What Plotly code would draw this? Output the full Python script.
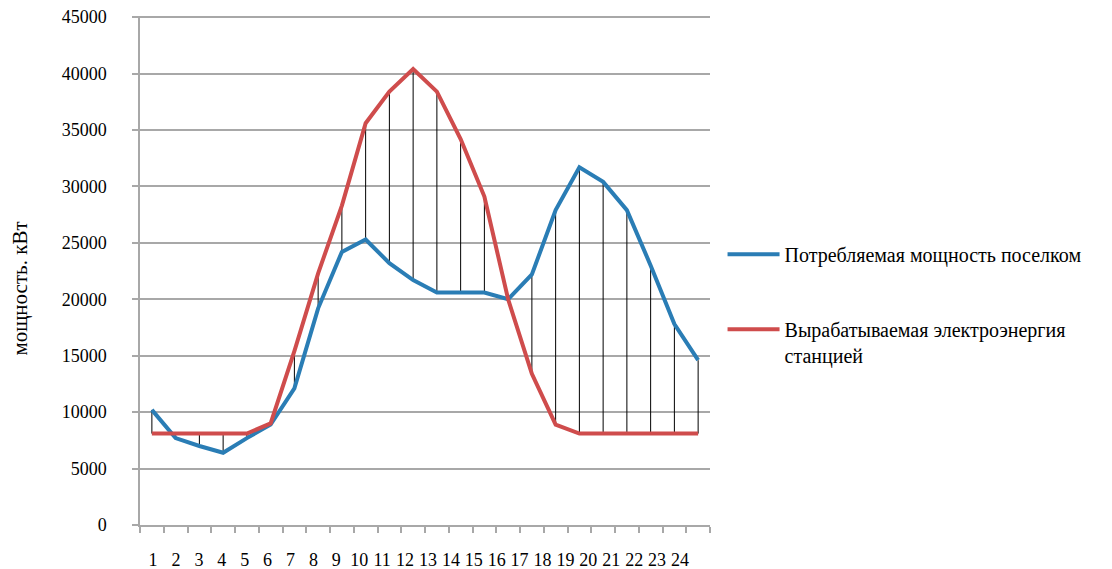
import plotly.graph_objects as go

hours = list(range(1, 25))
consumption = [10200, 7700, 7000, 6400, 7700, 8900, 12100, 19200, 24200, 25300, 23200, 21700,
               20600, 20600, 20600, 20000, 22200, 27900, 31700, 30400, 27900, 23000, 17800, 14600]
generation = [8100, 8100, 8100, 8100, 8100, 9000, 15400, 22300, 28300, 35600, 38400, 40400,
              38400, 34200, 29100, 20000, 13400, 8900, 8100, 8100, 8100, 8100, 8100, 8100]
y_ticks = list(range(0, 45001, 5000))
name_cons = "Потребляемая мощность поселком"
name_gen = "Вырабатываемая электроэнергия<br>станцией"
y_title = "мощность. кВт"

FONT = "'Liberation Serif', 'Times New Roman', Times, serif"
BLUE = "#2a7db5"
RED = "#cf4c4c"
GRID = "#a8a8a8"

# high-low drop lines between the two series
dx, dy = [], []
for h, c, g in zip(hours, consumption, generation):
    dx += [h, h, None]
    dy += [c, g, None]

fig = go.Figure()
fig.add_trace(go.Scatter(x=dx, y=dy, mode="lines", line=dict(color="black", width=1),
                         showlegend=False, hoverinfo="skip"))
fig.add_trace(go.Scatter(x=hours, y=consumption, mode="lines", name=name_cons,
                         line=dict(color=BLUE, width=4), legendgroup="a"))
fig.add_trace(go.Scatter(x=hours, y=generation, mode="lines", name=name_gen,
                         line=dict(color=RED, width=4), legendgroup="b"))
# carrier for the hour labels axis
fig.add_trace(go.Scatter(x=hours, y=[None] * len(hours), xaxis="x2", mode="lines",
                         showlegend=False, hoverinfo="skip"))

boundaries = [h - 0.5 for h in hours] + [hours[-1] + 0.5]

# the page body adds an 8 px offset, so the figure is 8 px smaller than the window
fig.update_layout(
    width=1104, height=561,
    margin=dict(l=132, r=402, t=8, b=44, autoexpand=False),
    paper_bgcolor="white", plot_bgcolor="white",
    font=dict(family=FONT, size=18, color="black"),
    showlegend=True,
    legend=dict(x=1.022, xanchor="left", y=0.57, yanchor="top",
                font=dict(family=FONT, size=20, color="black"),
                tracegroupgap=46, valign="top", itemwidth=52),
    xaxis=dict(range=[0.5, 24.5], tickvals=boundaries, showticklabels=False,
               ticks="outside", ticklen=6, tickcolor=GRID, tickwidth=1.5,
               showline=True, linecolor=GRID, linewidth=1.5, automargin=False,
               showgrid=False, zeroline=False, fixedrange=True),
    xaxis2=dict(overlaying="x", side="bottom", anchor="y", range=[0.43, 25.31],
                tickvals=hours, ticktext=[str(h) for h in hours], automargin=False,
                showline=False, showgrid=False, zeroline=False, ticks="",
                ticklabelstandoff=22, tickfont=dict(family=FONT, size=18, color="black")),
    yaxis=dict(range=[0, 45100], tickvals=y_ticks, ticktext=[str(v) for v in y_ticks],
               ticks="outside", ticklen=6, tickcolor=GRID, tickwidth=1.5,
               showline=True, linecolor=GRID, linewidth=1.5, automargin=False,
               showgrid=True, gridcolor=GRID, gridwidth=1.5, zeroline=False,
               ticklabeloverflow="allow",
               ticklabelstandoff=22, tickfont=dict(family=FONT, size=18, color="black")),
    annotations=[dict(text=y_title, textangle=-90, xref="paper", yref="paper",
                      x=-0.21, y=0.465, xanchor="center", yanchor="middle",
                      showarrow=False, font=dict(family=FONT, size=21, color="black"))],
)

fig.write_html("out.html")
